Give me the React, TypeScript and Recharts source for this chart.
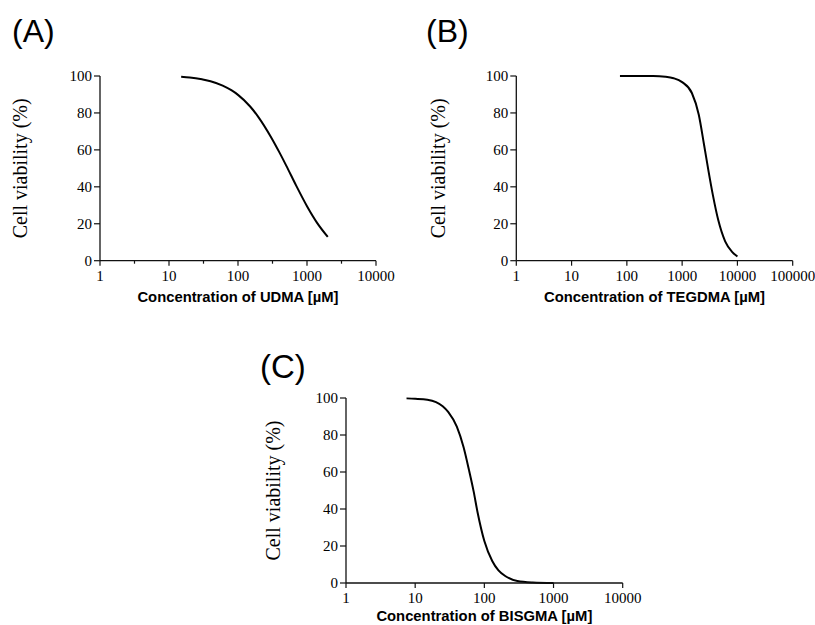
import React from 'react'
import { LineChart, Line, XAxis, YAxis } from 'recharts'

const udmaConc = [15, 20, 30, 40, 60, 80, 100, 150, 200, 300, 400, 500, 700, 1000, 1400, 2000]
const udmaViability = [99.6, 99.2, 98.2, 97.2, 94.8, 92.3, 89.8, 83.5, 77.5, 67, 58.5, 51.5, 40.5, 29.5, 20.5, 12.9]

const tegdmaConc = [75, 150, 300, 500, 700, 1000, 1500, 2000, 2500, 3000, 3600, 4500, 6000, 8000, 10000]
const tegdmaViability = [100, 100, 100, 99.6, 98.8, 96.7, 90.8, 79, 62.5, 48.5, 35.5, 22, 10.5, 4.8, 2.3]

const bisgmaConc = [7.5, 10, 15, 20, 25, 30, 40, 50, 60, 70, 80, 100, 130, 160, 200, 300, 500, 1000]
const bisgmaViability = [99.8, 99.6, 99.1, 97.8, 95.6, 92.5, 84.5, 73.5, 61, 49.5, 38, 22.7, 11.9, 6.8, 3.8, 1.1, 0.3, 0]

const yTicks = [0, 20, 40, 60, 80, 100]
const ticks4 = [1, 10, 100, 1000, 10000]
const ticks5 = [1, 10, 100, 1000, 10000, 100000]
const halfDecades4 = [3.162, 31.62, 316.2, 3162]

const serif = '"Liberation Serif", "Times New Roman", serif'
const sans = '"Liberation Sans", Arial, sans-serif'

const toRows = (xs: number[], vs: number[]) => xs.map((x, i) => ({ x, v: vs[i] }))

function XTick(props: any) {
  const { x, y, payload, majors } = props
  const major = majors.includes(payload.value)
  return (
    <g>
      <line x1={x} x2={x} y1={y} y2={y + (major ? 5 : 3)} stroke="#111" strokeWidth={1.2} />
      {major && (
        <text x={x} y={y + 20} textAnchor="middle" fontFamily={serif} fontSize={15} fill="#000">
          {payload.value}
        </text>
      )}
    </g>
  )
}

interface PanelProps {
  left: number
  top: number
  width: number
  height: number
  yAxisWidth: number
  marginTop: number
  marginRight: number
  marginBottom: number
  yTitleOffset: number
  xTitleOffset: number
  majors: number[]
  minors?: number[]
  data: { x: number; v: number }[]
  xTitle: string
}

function Panel(p: PanelProps) {
  const dom = [p.majors[0], p.majors[p.majors.length - 1]]
  const allTicks = [...p.majors, ...(p.minors || [])].sort((a, b) => a - b)
  return (
    <div style={{ position: 'absolute', left: p.left, top: p.top }}>
      <LineChart
        width={p.width}
        height={p.height}
        data={p.data}
        margin={{ top: p.marginTop, right: p.marginRight, left: 0, bottom: p.marginBottom }}
        style={{ overflow: 'visible' }}
      >
        <XAxis
          dataKey="x"
          type="number"
          scale="log"
          domain={dom}
          allowDataOverflow
          ticks={allTicks}
          interval={0}
          height={40}
          tickSize={0}
          tickMargin={0}
          tickLine={false}
          axisLine={{ stroke: '#111', strokeWidth: 1.3 }}
          tick={<XTick majors={p.majors} />}
          label={{
            value: p.xTitle,
            position: 'insideTop',
            offset: p.xTitleOffset,
            style: { fontFamily: sans, fontWeight: 'bold', fontSize: 14.8, fill: '#000' },
          }}
        />
        <YAxis
          type="number"
          domain={[0, 100]}
          ticks={yTicks}
          interval={0}
          width={p.yAxisWidth}
          tickSize={6}
          tickMargin={2}
          tickLine={{ stroke: '#111', strokeWidth: 1.2 }}
          axisLine={{ stroke: '#111', strokeWidth: 1.3 }}
          tick={{ fill: '#000', fontFamily: serif, fontSize: 15 }}
          label={{
            value: 'Cell viability (%)',
            angle: -90,
            position: 'insideLeft',
            offset: p.yTitleOffset,
            style: { textAnchor: 'middle', fontFamily: serif, fontSize: 20, fill: '#000' },
          }}
        />
        <Line
          type="monotone"
          dataKey="v"
          stroke="#000"
          strokeWidth={2}
          dot={false}
          isAnimationActive={false}
        />
      </LineChart>
    </div>
  )
}

export default function App() {
  return (
    <div style={{ position: 'absolute', left: 0, top: 0, width: 815, height: 625, background: '#fff', overflow: 'hidden' }}>
      <svg width={815} height={625} style={{ position: 'absolute', left: 0, top: 0 }}>
        <text x={12} y={42} fontFamily={sans} fontSize={32} fill="#000">(A)</text>
        <text x={426} y={42} fontFamily={sans} fontSize={32} fill="#000">(B)</text>
        <text x={260} y={378} fontFamily={sans} fontSize={33} fill="#000">(C)</text>
      </svg>
      <Panel
        left={0}
        top={60}
        width={400}
        height={260}
        yAxisWidth={100}
        marginTop={16}
        marginRight={24}
        marginBottom={19.3}
        yTitleOffset={20}
        xTitleOffset={30.5}
        majors={ticks4}
        minors={halfDecades4}
        data={toRows(udmaConc, udmaViability)}
        xTitle="Concentration of UDMA [µM]"
      />
      <Panel
        left={420}
        top={60}
        width={395}
        height={260}
        yAxisWidth={96.3}
        marginTop={16}
        marginRight={22.3}
        marginBottom={19.3}
        yTitleOffset={18.3}
        xTitleOffset={30.5}
        majors={ticks5}
        data={toRows(tegdmaConc, tegdmaViability)}
        xTitle="Concentration of TEGDMA [µM]"
      />
      <Panel
        left={250}
        top={380}
        width={400}
        height={245}
        yAxisWidth={96}
        marginTop={18}
        marginRight={27.3}
        marginBottom={2}
        yTitleOffset={23.3}
        xTitleOffset={27}
        majors={ticks4}
        data={toRows(bisgmaConc, bisgmaViability)}
        xTitle="Concentration of BISGMA [µM]"
      />
    </div>
  )
}
